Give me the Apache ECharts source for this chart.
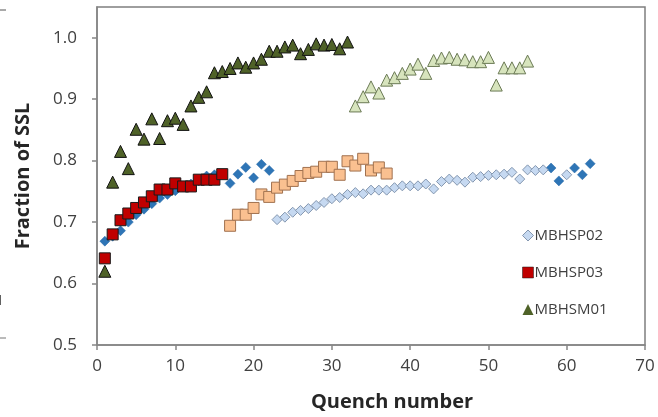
<!DOCTYPE html>
<html>
<head>
<meta charset="utf-8">
<script src="https://cdn.jsdelivr.net/npm/echarts@6/dist/echarts.min.js"></script>
<style>
html,body{margin:0;padding:0;background:#fff;}
#chart{width:658px;height:417px;}
</style>
</head>
<body>
<div id="chart"></div>
<script>
// ---- data ----
const xTicks = [0, 10, 20, 30, 40, 50, 60, 70];
const yTicks = [0.5, 0.6, 0.7, 0.8, 0.9, 1.0];

// MBHSP02 – dark blue diamonds (first run and final points)
const sp02DarkQ = [1,2,3,4,5,6,7,8,9,10,11,12,13,14,15,16,17,18,19,20,21,22,58,59,61,62,63];
const sp02DarkV = [0.669,0.677,0.686,0.700,0.712,0.721,0.730,0.739,0.745,0.751,0.757,0.762,0.767,0.775,0.777,0.778,0.763,0.778,0.789,0.772,0.794,0.784,0.788,0.767,0.788,0.777,0.795];
// MBHSP02 – light diamonds
const sp02LightQ = [23,24,25,26,27,28,29,30,31,32,33,34,35,36,37,38,39,40,41,42,43,44,45,46,47,48,49,50,51,52,53,54,55,56,57,60];
const sp02LightV = [0.704,0.708,0.716,0.719,0.722,0.727,0.732,0.738,0.740,0.745,0.748,0.746,0.752,0.752,0.752,0.756,0.759,0.759,0.759,0.762,0.754,0.766,0.770,0.768,0.765,0.773,0.774,0.776,0.777,0.778,0.781,0.770,0.785,0.784,0.785,0.777];

// MBHSP03 – red squares
const sp03Q = [1,2,3,4,5,6,7,8,9,10,11,12,13,14,15,16];
const sp03V = [0.641,0.680,0.703,0.714,0.723,0.732,0.742,0.753,0.753,0.763,0.758,0.758,0.769,0.769,0.769,0.778];
// MBHSP03 – light orange squares
const sp03bQ = [17,18,19,20,21,22,23,24,25,26,27,28,29,30,31,32,33,34,35,36,37];
const sp03bV = [0.694,0.712,0.712,0.723,0.745,0.741,0.756,0.761,0.767,0.775,0.780,0.782,0.790,0.790,0.777,0.799,0.792,0.803,0.784,0.789,0.779];

// MBHSM01 – dark green triangles
const sm01Q = [1,2,3,4,5,6,7,8,9,10,11,12,13,14,15,16,17,18,19,20,21,22,23,24,25,26,27,28,29,30,31,32];
const sm01V = [0.620,0.765,0.815,0.787,0.851,0.835,0.868,0.836,0.865,0.869,0.859,0.889,0.903,0.912,0.943,0.945,0.950,0.959,0.952,0.959,0.965,0.978,0.978,0.985,0.988,0.974,0.981,0.990,0.988,0.989,0.982,0.993];
// MBHSM01 – light green triangles
const sm01bQ = [33,34,35,36,37,38,39,40,41,42,43,44,45,46,47,48,49,50,51,52,53,54,55];
const sm01bV = [0.889,0.904,0.920,0.910,0.931,0.935,0.942,0.949,0.957,0.942,0.963,0.967,0.968,0.965,0.964,0.961,0.961,0.968,0.923,0.951,0.951,0.951,0.962];

const legendNames = ['MBHSP02', 'MBHSP03', 'MBHSM01'];

function pairs(qs, vs) { return qs.map((q, i) => [q, vs[i]]); }

const FONT = 'Open Sans';
const chart = echarts.init(document.getElementById('chart'), null, {renderer: 'canvas'});

chart.setOption({
  animation: false,
  backgroundColor: '#ffffff',
  grid: {
    left: 97, right: 13, top: 7, bottom: 72,
    show: true, borderColor: '#7f7f7f', borderWidth: 1.5, backgroundColor: 'transparent'
  },
  legend: {
    data: [
      {name: legendNames[0], icon: 'diamond', itemStyle: {borderWidth: 1}},
      {name: legendNames[1], icon: 'rect', itemStyle: {borderWidth: 0.5}},
      {name: legendNames[2], icon: 'triangle', itemStyle: {borderWidth: 0}}
    ],
    orient: 'vertical',
    left: 517, top: 223,
    itemWidth: 11, itemHeight: 11, itemGap: 22,
    textStyle: {fontFamily: FONT, fontSize: 15, color: '#404040', padding: [0, 0, 0, -4]}
  },
  xAxis: {
    type: 'value', min: 0, max: 70, interval: 10,
    name: 'Quench number', nameLocation: 'middle', nameGap: 47,
    nameTextStyle: {fontFamily: FONT, fontSize: 20, fontWeight: 'bold', color: '#262626', padding: [0, 0, 0, 42]},
    axisLine: {show: true, lineStyle: {color: '#868686', width: 1.5}},
    axisTick: {show: true, inside: false, length: 5, lineStyle: {color: '#868686', width: 1.5}},
    axisLabel: {fontFamily: FONT, fontSize: 17, color: '#404040', margin: 13, customValues: xTicks},
    splitLine: {show: false}
  },
  yAxis: {
    type: 'value', min: 0.5, max: 1.05, interval: 0.1,
    name: 'Fraction of SSL', nameLocation: 'middle', nameGap: 64,
    nameTextStyle: {fontFamily: FONT, fontSize: 20, fontWeight: 'bold', color: '#262626'},
    axisLine: {show: true, lineStyle: {color: '#868686', width: 1.5}},
    axisTick: {show: true, inside: false, length: 5, lineStyle: {color: '#868686', width: 1.5}, customValues: yTicks},
    axisLabel: {fontFamily: FONT, fontSize: 17, color: '#404040', margin: 20, customValues: yTicks,
      formatter: v => v.toFixed(1)},
    splitLine: {show: false}
  },
  series: [
    {
      name: 'MBHSP02 (dark)', type: 'scatter', symbol: 'diamond', symbolSize: 10,
      itemStyle: {color: '#2e75b6', borderColor: '#2a6aa8', borderWidth: 0.5, opacity: 1},
      data: pairs(sp02DarkQ, sp02DarkV), z: 2
    },
    {
      name: legendNames[0], type: 'scatter', symbol: 'diamond', symbolSize: 10,
      itemStyle: {color: '#c6d9f1', borderColor: '#8497b0', borderWidth: 1, opacity: 1},
      data: pairs(sp02LightQ, sp02LightV), z: 3
    },
    {
      name: legendNames[1], type: 'scatter', symbol: 'rect', symbolSize: 11,
      itemStyle: {color: '#c00000', borderColor: '#1a1a1a', borderWidth: 1, opacity: 1},
      data: pairs(sp03Q, sp03V), z: 4
    },
    {
      name: 'MBHSP03 (light)', type: 'scatter', symbol: 'rect', symbolSize: 11,
      itemStyle: {color: '#fac090', borderColor: '#a0714f', borderWidth: 1, opacity: 1},
      data: pairs(sp03bQ, sp03bV), z: 4
    },
    {
      name: legendNames[2], type: 'scatter', symbol: 'triangle', symbolSize: 12,
      itemStyle: {color: '#4f6228', borderColor: '#111111', borderWidth: 1, opacity: 1},
      data: pairs(sm01Q, sm01V), z: 5
    },
    {
      name: 'MBHSM01 (light)', type: 'scatter', symbol: 'triangle', symbolSize: 12,
      itemStyle: {color: '#d7e4bd', borderColor: '#6b7a55', borderWidth: 1, opacity: 1},
      data: pairs(sm01bQ, sm01bV), z: 5
    }
  ],
  graphic: [
    {type: 'line', shape: {x1: 0, y1: 10, x2: 6, y2: 10}, style: {stroke: '#555', lineWidth: 1}},
    {type: 'line', shape: {x1: 0, y1: 338, x2: 6, y2: 338}, style: {stroke: '#777', lineWidth: 1}},
    {type: 'text', x: -4, y: 294, style: {text: '1', fontFamily: FONT, fontSize: 14, fill: '#555'}}
  ]
});
</script>
</body>
</html>
